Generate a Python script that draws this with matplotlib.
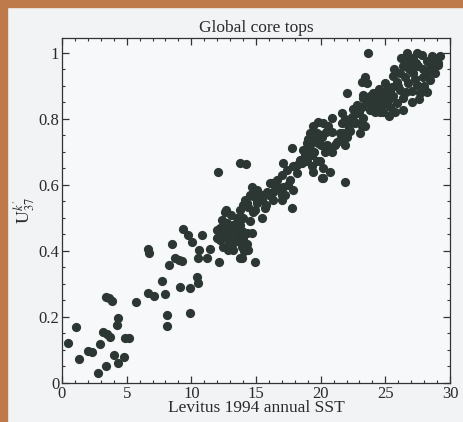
import matplotlib.pyplot as plt
from matplotlib.patches import Rectangle
from matplotlib.ticker import MultipleLocator, FuncFormatter

# core top SST (deg C) and alkenone index
sst = [0.49, 1.08, 1.34, 2.0, 2.3, 2.8, 2.9, 3.15, 3.45, 3.7, 3.4, 3.4, 3.66, 3.9, 4.05,
       4.35, 4.28, 4.35, 4.8, 4.87, 5.2, 5.7, 6.67, 7.1, 6.67, 6.75, 7.7, 7.97, 8.1, 8.1,
       8.3, 8.5, 8.74, 9.07, 9.26, 9.13, 9.33, 9.77, 9.9, 9.9, 10.03, 10.4, 10.55, 10.5,
       10.6, 10.8, 11.2, 11.45, 12.17, 12.7, 13.9,
       11.96, 12.22, 12.48, 12.74, 12.99, 13.25, 13.51, 13.77, 13.9, 13.25, 12.86, 14.28,
       14.67, 14.41, 13.77, 14.93, 12.35, 12.6, 12.09, 12.4, 13.0, 13.4, 12.7, 13.6, 14.0,
       12.2, 14.3, 14.1, 13.9,
       13.77, 14.02, 14.41, 14.8, 15.44, 14.67, 14.54, 15.18, 15.44, 16.09, 16.47, 16.99,
       17.12, 15.7, 15.06, 14.15, 14.93, 14.28, 13.8, 14.2,
       17.76, 21.89, 17.76, 17.12, 17.38, 17.89, 18.41, 18.79, 19.18, 19.44, 19.7, 20.09,
       20.73, 20.73, 20.09, 19.7, 19.31, 19.18, 18.66, 18.15, 17.63, 16.99, 16.6, 16.22,
       16.86, 17.25, 17.89, 15.83, 15.06, 14.8, 16.34, 16.99, 15.06, 21.5, 21.76, 21.11,
       22.02, 23.3, 24.08, 24.73, 25.37, 24.34, 23.82, 24.59, 23.18, 22.79, 23.05, 23.18,
       22.53, 21.63, 21.63, 22.14, 21.5, 22.02, 22.27, 21.24, 20.86, 20.6, 20.21, 19.82,
       19.44, 19.18, 20.09, 19.82, 20.47, 20.86, 18.92, 19.31, 19.95, 18.92, 18.54, 19.44,
       20.21, 20.21,
       23.69, 23.43, 23.18, 23.56, 26.4, 26.66, 27.43, 27.82, 28.59, 28.98, 28.72, 29.1,
       28.2, 27.17, 26.78, 26.4, 27.56, 28.33, 28.85, 27.94, 27.17, 26.53, 26.14, 25.88,
       26.78, 27.43, 28.46, 25.5, 25.11, 26.14, 27.05, 27.69, 25.62, 24.85, 26.4, 27.05,
       24.34, 24.08, 24.73, 25.37, 25.88, 25.75, 24.85, 24.21, 23.3, 22.79, 22.4, 23.3,
       22.66, 23.43, 23.05, 29.2, 29.1,
       26.2, 27.0, 27.9, 25.3, 26.0, 27.3, 28.0, 24.6, 25.1, 26.6, 25.6, 27.6, 28.2,
       12.5, 13.2, 13.5, 14.0, 12.9, 13.7, 14.5, 12.0, 13.1,
       15.5, 16.0, 16.5, 17.5, 15.8, 16.3,
       18.2, 18.8, 19.5, 20.0, 20.4, 19.6, 20.3, 19.0, 20.9,
       21.9, 22.5, 23.0, 23.6, 22.2, 23.8, 21.9,
       24.5, 25.0, 25.7, 26.8, 27.4, 28.5, 25.3, 24.0]
uk37 = [0.12, 0.171, 0.072, 0.098, 0.095, 0.029, 0.118, 0.155, 0.148, 0.14, 0.05, 0.262,
        0.256, 0.248, 0.084, 0.196, 0.176, 0.062, 0.08, 0.135, 0.135, 0.246, 0.272, 0.264,
        0.405, 0.393, 0.309, 0.27, 0.206, 0.173, 0.358, 0.42, 0.378, 0.373, 0.37, 0.292,
        0.465, 0.448, 0.287, 0.211, 0.428, 0.322, 0.304, 0.378, 0.403, 0.448, 0.378, 0.405,
        0.368, 0.524, 0.378,
        0.464, 0.433, 0.413, 0.484, 0.438, 0.423, 0.464, 0.479, 0.413, 0.403, 0.403, 0.453,
        0.453, 0.403, 0.378, 0.368, 0.494, 0.519, 0.64, 0.45, 0.46, 0.44, 0.44, 0.43, 0.44,
        0.47, 0.42, 0.40, 0.46,
        0.524, 0.539, 0.534, 0.519, 0.499, 0.595, 0.57, 0.575, 0.555, 0.605, 0.585, 0.57,
        0.595, 0.529, 0.544, 0.555, 0.524, 0.544, 0.667, 0.664,
        0.711, 0.61, 0.529, 0.666, 0.645, 0.656, 0.676, 0.691, 0.706, 0.736, 0.757, 0.746,
        0.706, 0.64, 0.62, 0.671, 0.656, 0.721, 0.706, 0.635, 0.615, 0.63, 0.615, 0.605,
        0.59, 0.57, 0.585, 0.58, 0.585, 0.565, 0.555, 0.555, 0.549, 0.736, 0.757, 0.721,
        0.878, 0.873, 0.878, 0.868, 0.883, 0.842, 0.827, 0.822, 0.837, 0.817, 0.787, 0.777,
        0.797, 0.817, 0.787, 0.782, 0.757, 0.746, 0.762, 0.731, 0.802, 0.777, 0.787, 0.792,
        0.777, 0.757, 0.752, 0.726, 0.721, 0.701, 0.726, 0.691, 0.671, 0.671, 0.666, 0.64,
        0.65, 0.62,
        0.999, 0.928, 0.913, 0.908, 0.827, 0.999, 0.999, 0.994, 0.989, 0.984, 0.964, 0.964,
        0.974, 0.984, 0.974, 0.959, 0.959, 0.943, 0.938, 0.928, 0.938, 0.928, 0.938, 0.913,
        0.908, 0.903, 0.918, 0.898, 0.888, 0.888, 0.883, 0.878, 0.868, 0.868, 0.863, 0.852,
        0.873, 0.852, 0.842, 0.837, 0.847, 0.822, 0.822, 0.822, 0.863, 0.842, 0.807, 0.802,
        0.787, 0.777, 0.757, 0.989, 0.968,
        0.985, 0.96, 0.95, 0.86, 0.9, 0.92, 0.9, 0.85, 0.85, 0.88, 0.93, 0.86, 0.88,
        0.47, 0.48, 0.50, 0.50, 0.42, 0.45, 0.49, 0.44, 0.51,
        0.57, 0.57, 0.60, 0.60, 0.54, 0.58,
        0.66, 0.68, 0.70, 0.72, 0.76, 0.75, 0.70, 0.74, 0.76,
        0.80, 0.83, 0.82, 0.85, 0.77, 0.87, 0.72,
        0.89, 0.91, 0.95, 0.95, 0.97, 0.96, 0.81, 0.835]

plt.rcParams['font.family'] = ['Liberation Serif', 'DejaVu Serif']
plt.rcParams['mathtext.fontset'] = 'stix'

fig = plt.figure(figsize=(4.64, 4.22), dpi=100, facecolor='#f1f3f4')
# orange frame strips on the left and top
fig.patches.append(Rectangle((0, 0), 7 / 464, 1, transform=fig.transFigure,
                             color='#bf7a4c', zorder=0))
fig.patches.append(Rectangle((0, 1 - 7 / 422), 1, 7 / 422, transform=fig.transFigure,
                             color='#bf7a4c', zorder=0))

ax = fig.add_axes([62 / 464, 39 / 422, 388 / 464, 345 / 422])
ax.set_facecolor('#f7f8f9')
ax.scatter(sst, uk37, s=44, color='#2c3632', linewidths=0, zorder=3)

ax.set_xlim(0, 30)
ax.set_ylim(0, 1.045)
ax.xaxis.set_major_locator(MultipleLocator(5))
ax.xaxis.set_minor_locator(MultipleLocator(1))
ax.yaxis.set_major_locator(MultipleLocator(0.2))
ax.yaxis.set_minor_locator(MultipleLocator(0.05))
ax.yaxis.set_major_formatter(FuncFormatter(lambda v, p: f"{v:g}"))
ax.tick_params(which='both', direction='in', top=True, right=True, colors='#333333',
               labelsize=12, labelcolor='#2a2a2a')
ax.tick_params(which='major', length=5, width=0.9, pad=2)
ax.tick_params(which='minor', length=2.5, width=0.8)
for s in ax.spines.values():
    s.set_color('#333333')
    s.set_linewidth(0.9)

ax.set_title('Global core tops', fontsize=12.5, color='#2a2a2a', pad=4)
ax.set_xlabel('Levitus 1994 annual SST', fontsize=12.5, color='#2a2a2a', labelpad=-1)
ax.set_ylabel(r"$\mathrm{U}^{k'}_{37}$", fontsize=13, color='#2a2a2a', labelpad=1)

fig.savefig('out.png', dpi=100, facecolor=fig.get_facecolor())
